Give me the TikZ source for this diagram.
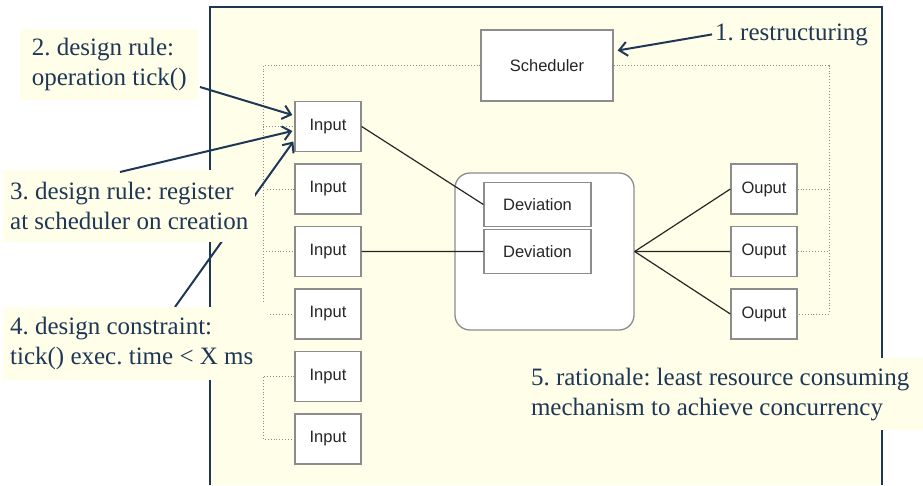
\documentclass[tikz,border=0pt]{standalone}
\usepackage{fontspec}
\setmainfont{Liberation Serif}
\setsansfont{Liberation Sans}
\usetikzlibrary{positioning, calc, arrows.meta}
\definecolor{paper}{HTML}{FFFEE8}
\definecolor{navy}{HTML}{1F3757}
\definecolor{boxgray}{HTML}{8C8C8C}
\frenchspacing

\begin{document}
\begin{tikzpicture}[x=1pt, y=-1pt, node distance=11.2pt,
    comp/.style={draw=boxgray, line width=1.3pt, fill=white, inner sep=0pt, text=black!85, font=\sffamily\fontsize{16.5}{20}\selectfont},
    io/.style={comp, minimum width=66pt, minimum height=50pt},
    dev/.style={comp, minimum width=107pt, minimum height=44pt},
    note/.style={fill=paper, anchor=north west, inner sep=0pt, align=left, text=navy, font=\fontsize{25}{30}\selectfont},
    link/.style={black!85, line width=1.2pt},
    bus/.style={boxgray, dotted, line width=0.9pt},
    hint/.style={navy, line width=2pt, -{Straight Barb[length=8pt, width=14pt]}}]
    \useasboundingbox (0,0) rectangle (923,485);

    % Define the yellow panel
    \fill[paper] (210,7) rectangle (882,485);
    \draw[navy, line width=2pt] (210,485) -- (210,7) -- (882,7) -- (882,485);

    % Define nodes for the components
    \node (sched) [comp, minimum width=132pt, minimum height=71pt] at (547,65.5) {Scheduler};
    \node (in1) [io] at (328,126.5) {Input};
    \node (in2) [io, below=of in1] {Input};
    \node (in3) [io, below=of in2] {Input};
    \node (in4) [io, below=of in3] {Input};
    \node (in5) [io, below=of in4] {Input};
    \node (in6) [io, below=of in5] {Input};
    \node (group) [draw=boxgray, line width=1.3pt, fill=white, rounded corners=15pt, minimum width=179pt, minimum height=157pt] at (544.5,251.5) {};
    \node (dev1) [dev] at (537.5,204.5) {Deviation};
    \node (dev2) [dev, below=1.7pt of dev1] {Deviation};
    \node (out1) [io] at (764,189) {Ouput};
    \node (out2) [io, below=of out1] {Ouput};
    \node (out3) [io, below=of out2] {Ouput};

    % Dotted scheduler bus
    \coordinate (busL) at (263,65.5);
    \coordinate (busR) at (829,65.5);
    \draw[bus] (sched.west) -- (busL) -- (busL |- 0,303);
    \draw[bus] (in1.west -| busL) -- (in1.west);
    \draw[bus] ($(in2.west)+(-27,0)$) -- (in2.west);
    \draw[bus] (in3.west -| busL) -- (in3.west);
    \draw[bus] ($(in4.west)+(-24,0)$) -- (in4.west);
    \draw[bus] (in5.west) -- (in5.west -| busL) -- (in6.west -| busL) -- (in6.west);
    \draw[bus] (sched.east) -- (busR) -- (busR |- out3.east) -- (out3.east);
    \draw[bus] (out1.east) -- (out1.east -| busR);
    \draw[bus] (out2.east) -- (out2.east -| busR);

    % Draw the data links
    \draw[link] (in1.east) -- (dev1.west);
    \draw[link] (in3.east) -- (dev2.west);
    \draw[link] (group.east) -- (out1.west);
    \draw[link] (group.east) -- (out2.west);
    \draw[link] (group.east) -- (out3.west);

    % Annotation 4 runs behind annotation 3
    \coordinate (n4tail) at (175,307);
    \draw[hint] (n4tail) -- ($(in1.west)+(-1,15)$);

    % Define the annotations
    \node (note2) [note, minimum width=178pt, minimum height=71pt] at (20,29) {2. design rule:\\operation tick()};
    \node (note3) [note, minimum width=252pt, minimum height=72pt] at (3,170) {3. design rule: register\\at scheduler on creation};
    \node (note4) [note, minimum width=257pt, minimum height=73pt] at (3,307) {4. design constraint:\\tick() exec. time < X ms};
    \node (note5) [note, minimum width=406pt, minimum height=72pt] at (517,358) {5. rationale: least resource consuming\\mechanism to achieve concurrency};
    \node (note1) [anchor=base west, inner sep=0pt, text=navy, font=\fontsize{25}{30}\selectfont] at (715,40) {1. restructuring};

    % Draw the annotation arrows
    \coordinate (n2tail) at (200,87);
    \coordinate (n3tail) at (120,172);
    \draw[hint] (n2tail) -- ($(in1.west)+(-2,-11.5)$);
    \draw[hint] (n3tail) -- ($(in1.west)+(-2,4.5)$);
    \draw[hint] ($(note1.west)+(-3,0)$) -- ($(sched.east)+(4,-15)$);
\end{tikzpicture}
\end{document}
